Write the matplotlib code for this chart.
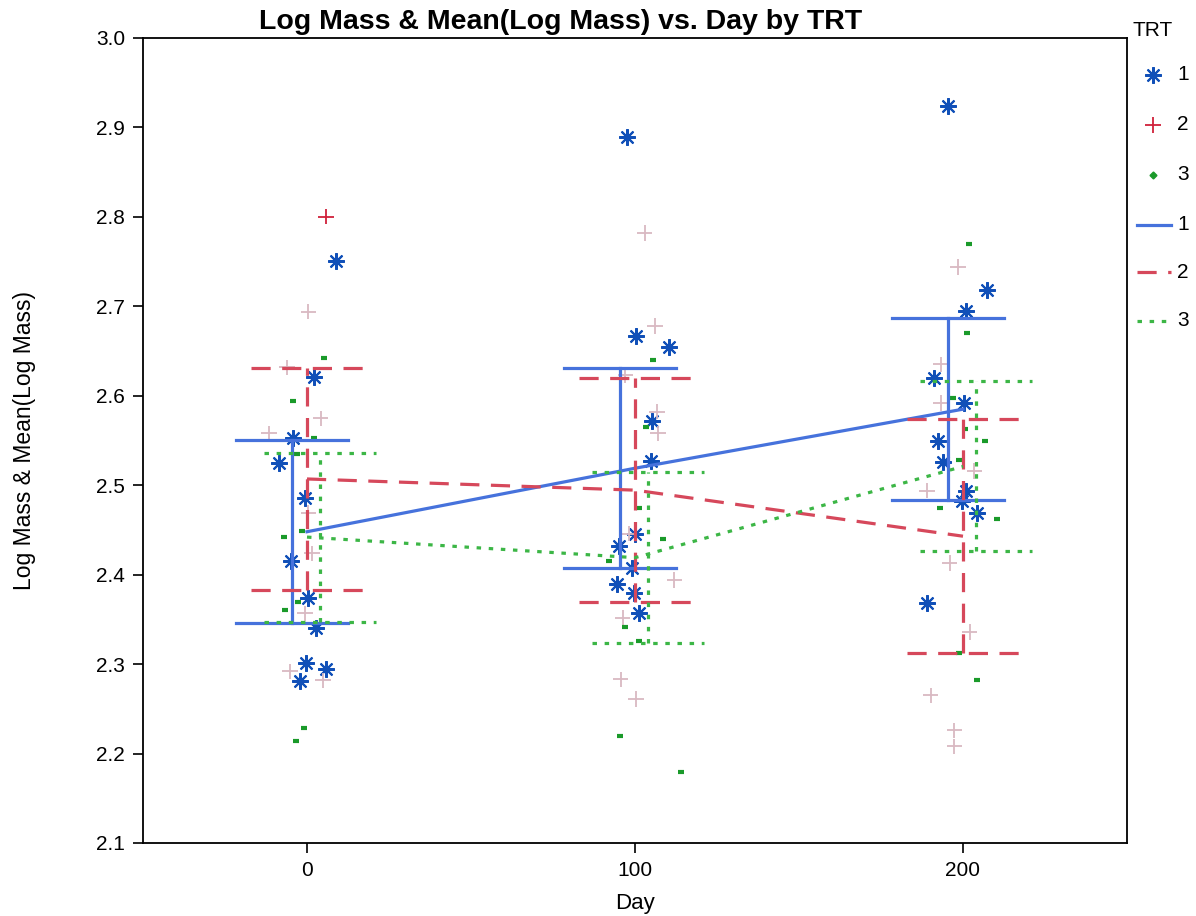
import numpy as np
import matplotlib
matplotlib.use("Agg")
import matplotlib.pyplot as plt
from matplotlib.lines import Line2D

plt.rcParams['font.family'] = ['Liberation Sans', 'DejaVu Sans']

days = [0, 100, 200]

# raw observations (jittered day, log mass)
t1_x = [8.8, 2.0, -4.3, -8.5, -0.6, -4.9, 0.4, 2.8, -0.3, 5.8, -2.1,
        97.6, 100.3, 110.4, 105.2, 104.9, 100.0, 95.1, 99.1, 94.5, 99.7, 101.1,
        195.4, 207.3, 200.9, 191.2, 200.3, 192.4, 194.0, 200.9, 199.7, 204.3, 189.0]
t1_y = [2.751, 2.621, 2.553, 2.525, 2.486, 2.415, 2.374, 2.340, 2.301, 2.294, 2.281,
        2.889, 2.667, 2.654, 2.572, 2.527, 2.445, 2.432, 2.407, 2.390, 2.379, 2.357,
        2.924, 2.718, 2.695, 2.620, 2.592, 2.550, 2.526, 2.494, 2.482, 2.469, 2.368]

t2_x = [5.8, 0.4, -6.1, 4.2, -11.6, 0.4, 1.5, -0.6, -5.2, 4.9,
        102.9, 106.1, 97.0, 106.7, 107.0, 98.1, 112.0, 96.3, 95.6, 100.3,
        198.5, 193.3, 193.3, 203.4, 189.0, 196.0, 202.1, 190.2, 197.3, 197.3]
t2_y = [2.800, 2.694, 2.632, 2.575, 2.558, 2.469, 2.424, 2.357, 2.292, 2.282,
        2.782, 2.678, 2.623, 2.582, 2.558, 2.446, 2.394, 2.352, 2.283, 2.261,
        2.744, 2.635, 2.592, 2.516, 2.494, 2.413, 2.336, 2.265, 2.226, 2.208]
t2_col = ['#d0213a'] + ['#d9b9c2'] * 29

t3_x = [5.2, -4.3, 2.1, -3.0, -1.5, -7.0, -2.7, -6.7, -0.9, -3.4,
        105.5, 103.4, 101.2, 108.5, 92.0, 97.1, 101.2, 95.4, 114.0,
        201.8, 201.2, 197.0, 200.6, 206.7, 198.8, 193.0, 210.4, 198.8, 204.3]
t3_y = [2.642, 2.594, 2.553, 2.535, 2.449, 2.442, 2.369, 2.361, 2.229, 2.214,
        2.640, 2.565, 2.475, 2.440, 2.415, 2.341, 2.326, 2.220, 2.179,
        2.770, 2.670, 2.597, 2.563, 2.549, 2.528, 2.475, 2.462, 2.312, 2.282]

# means with lower/upper interval limits
t1_mean = [2.448, 2.519, 2.585]
t1_lo = [2.346, 2.408, 2.483]
t1_hi = [2.551, 2.631, 2.687]
t2_mean = [2.507, 2.4945, 2.443]
t2_lo = [2.383, 2.369, 2.312]
t2_hi = [2.631, 2.620, 2.574]
t3_mean = [2.442, 2.419, 2.521]
t3_lo = [2.347, 2.3235, 2.426]
t3_hi = [2.536, 2.5145, 2.617]

legend_labels = ['1', '2', '3', '1', '2', '3']

W, H = 1196, 916
fig = plt.figure(figsize=(W / 100, H / 100), dpi=100)
ax = fig.add_axes([143 / W, 1 - 843 / H, 984 / W, 805 / H])

star = dict(ls='none', marker=(8, 2, 0), ms=12, mew=1.5, color='#1150b8')
# points
ax.plot(t1_x, t1_y, zorder=2, **star)
ax.scatter(t2_x, t2_y, marker='+', s=120, linewidths=1.3, c=t2_col, zorder=2)
ax.plot(t3_x, t3_y, ls='none', marker='_', ms=5, mew=3,
        color='#1a9a2a', zorder=2)

styles = [
    (t1_mean, t1_lo, t1_hi, -4.5, '#4672dc', dict(ls='-')),
    (t2_mean, t2_lo, t2_hi, 0.0, '#d6485b', dict(dashes=(6, 3.6))),
    (t3_mean, t3_lo, t3_hi, 4.0, '#3cb646', dict(dashes=(1.4, 2.4))),
]
cap = 17
for mean, lo, hi, off, col, ls in styles:
    ax.plot(days, mean, color=col, lw=2.3, zorder=3, **ls)
    for d, l, h in zip(days, lo, hi):
        x = d + off
        ax.plot([x, x], [l, h], color=col, lw=2.3, zorder=3, **ls)
        ax.plot([x - cap, x + cap], [l, l], color=col, lw=2.3, zorder=3, **ls)
        ax.plot([x - cap, x + cap], [h, h], color=col, lw=2.3, zorder=3, **ls)

ax.set_xlim(-50, 250)
ax.set_ylim(2.1, 3.0)
ax.set_xticks(days)
ax.set_yticks(np.round(np.arange(2.1, 3.01, 0.1), 1))
ax.yaxis.set_major_formatter(matplotlib.ticker.FormatStrFormatter('%.1f'))
ax.tick_params(labelsize=15, length=7, width=1.2, direction='out', pad=6)
for s in ax.spines.values():
    s.set_linewidth(1.3)

ax.set_xlabel('Day', fontsize=16, labelpad=9)
ax.set_ylabel('Log Mass & Mean(Log Mass)', fontsize=16.5, labelpad=43)
fig.text(561 / W, 1 - 22 / H, 'Log Mass & Mean(Log Mass) vs. Day by TRT',
         ha='center', va='center', fontsize=20.5, fontweight='bold')

# legend drawn by hand in figure pixels
fig.text(1153 / W, 1 - 30 / H, 'TRT', ha='center', va='center', fontsize=15)
handles = [
    dict(star),
    dict(ls='none', marker='+', ms=12, mew=1.3, color='#d0213a'),
    dict(ls='none', marker='D', ms=3.5, color='#1a9a2a'),
    dict(color='#4672dc', lw=2.3),
    dict(color='#d6485b', lw=2.3, dashes=(6, 3.6)),
    dict(color='#3cb646', lw=2.3, dashes=(1.4, 2.4)),
]
ys = [75, 125, 175, 225, 272, 321]
for h, lab, yy in zip(handles, legend_labels, ys):
    yf = 1 - yy / H
    if h.get('ls') == 'none':
        fig.add_artist(Line2D([1153 / W], [yf], **h))
    else:
        fig.add_artist(Line2D([1137 / W, 1171 / W], [yf, yf], **h))
    fig.text(1177 / W, yf, lab, ha='left', va='center', fontsize=15)

fig.savefig('out.png', dpi=100)
